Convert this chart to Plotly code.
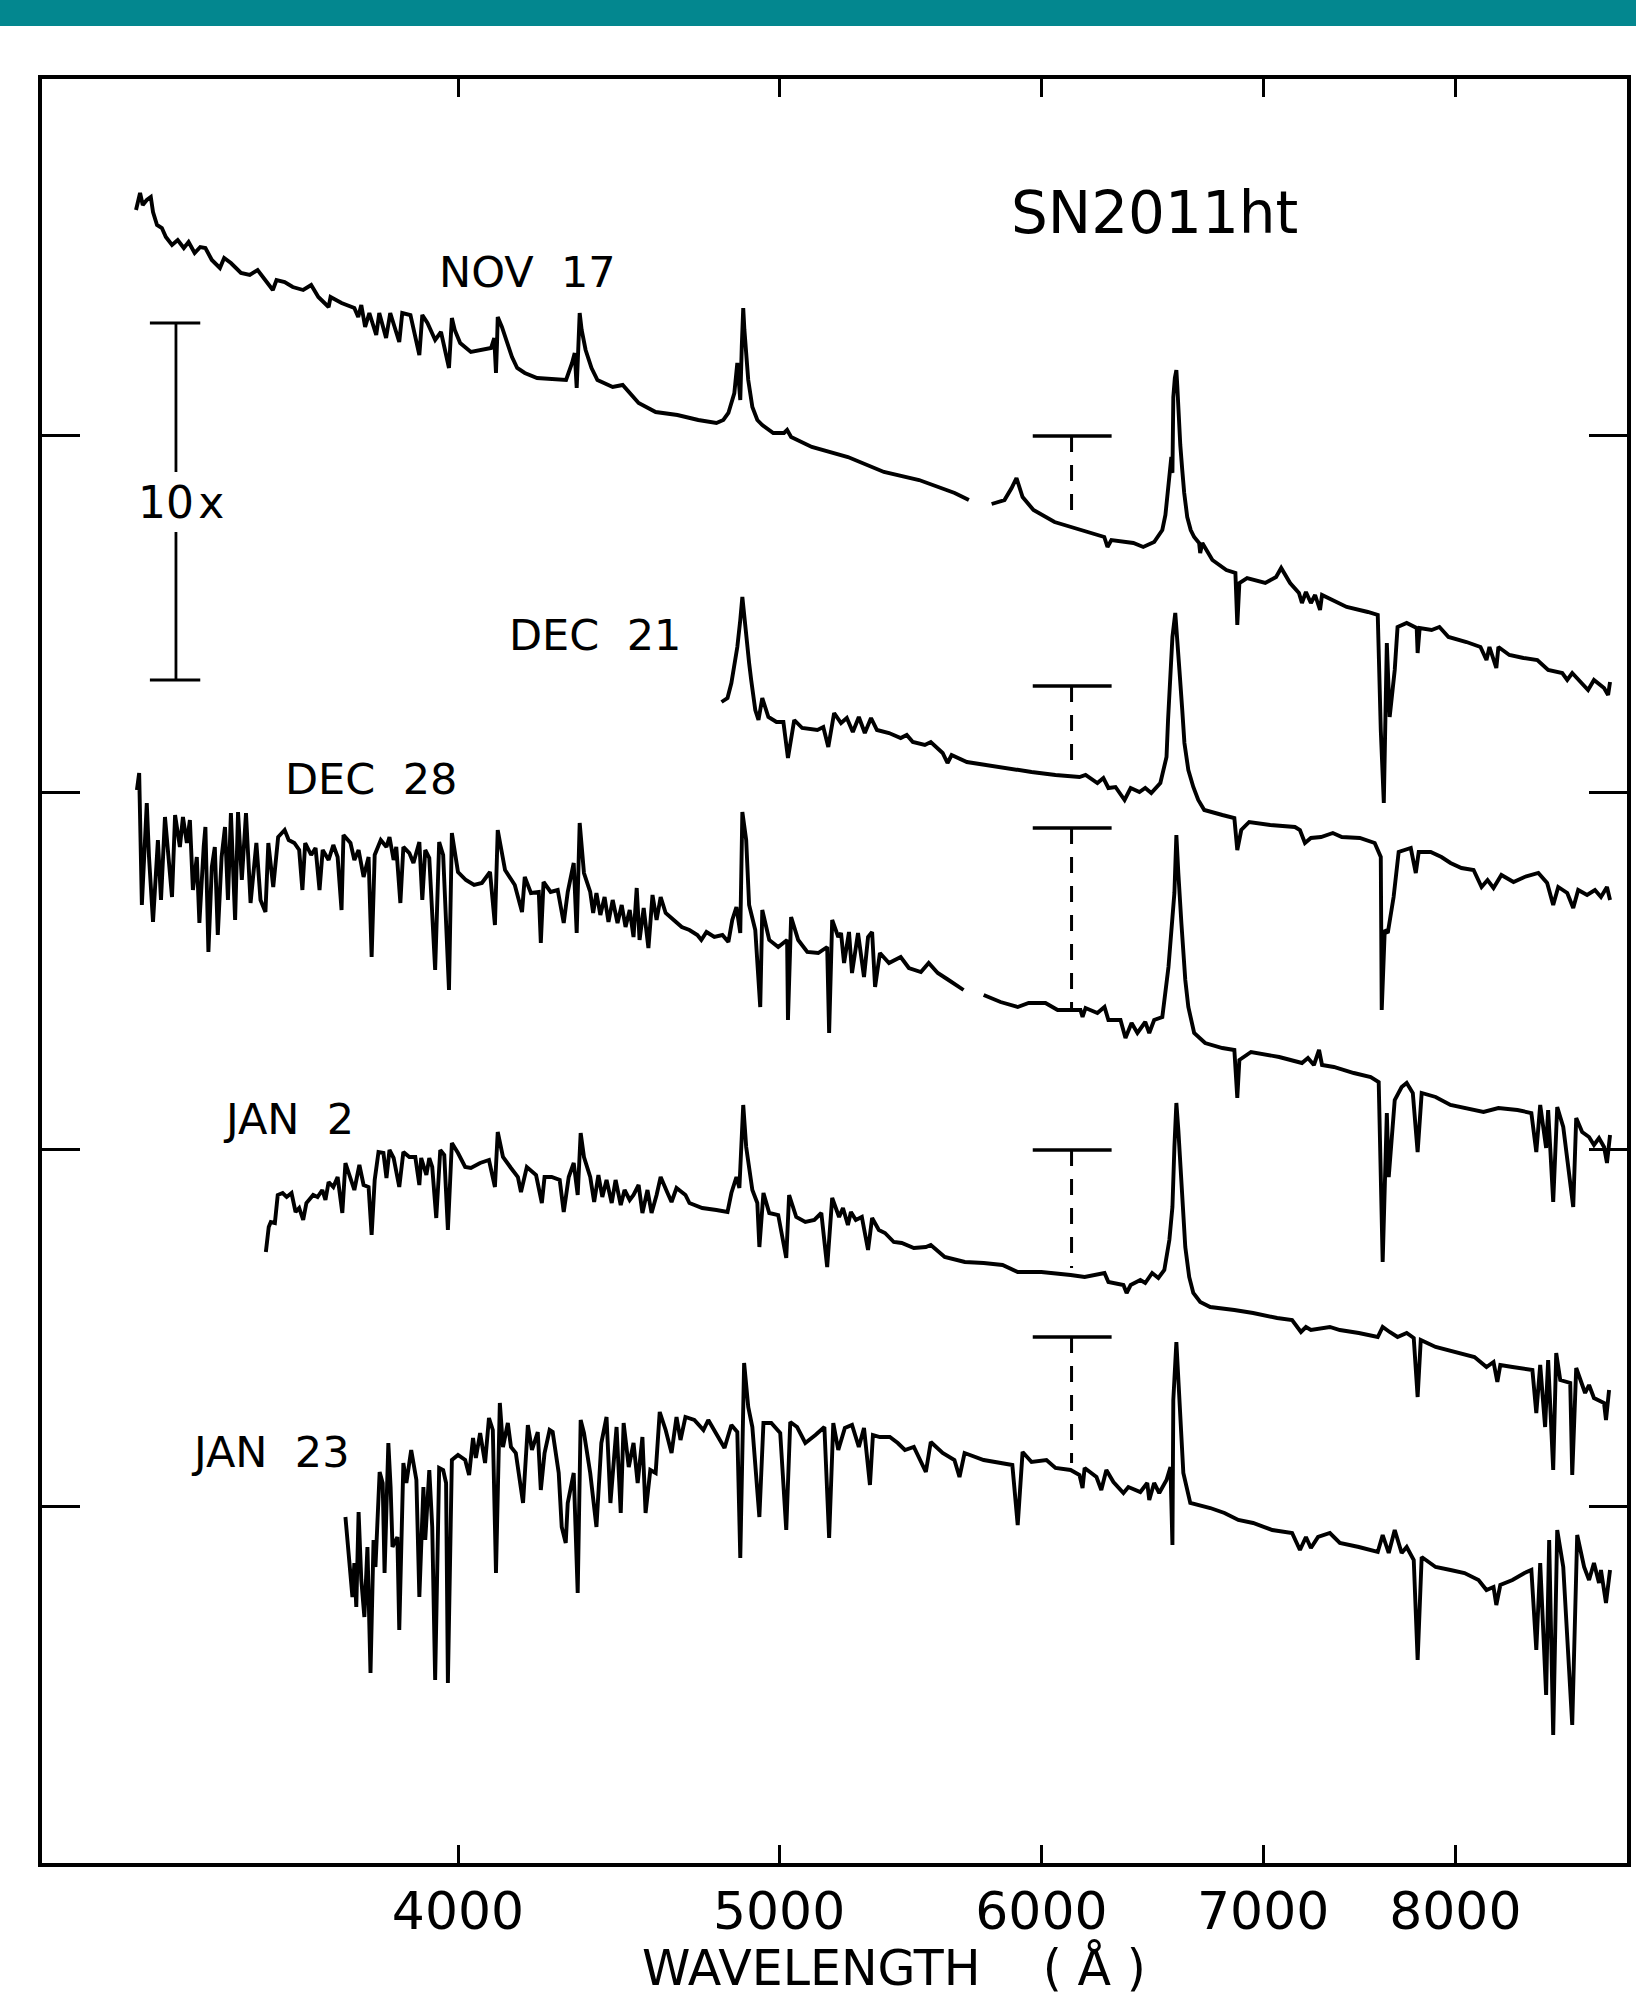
import math
import plotly.graph_objects as go

# ---------------- data (wavelength in Angstrom, relative flux + offset, arbitrary units) -------------
wl_nov17 = [3198,3207,3213,3222,3231,3236,3245,3256,3265,3279,3292,3306,3317,3331,3344,3356,3371,3390,3400,3416,
            3440,3461,3480,3495,3517,3526,3546,3566,3592,3612,3630,3656,3661,3689,3722,3732,3740,3750,3761,3779,
            3787,3805,3816,3840,3848,3870,3894,3902,3916,3937,3953,3975,3983,3991,4006,4036,
            4093,4102,4107,4110,4112,4124,4136,4153,4168,4190,
            4226,4290,4312,4330,4338,4344,4348,4353,4359,4371,4389,4407,4454,4485,4535,4589,4659,4727,
            4787,4810,4827,4847,4857,4867,4872,4877,4881,4888,4894,4908,4925,4942,
            4980,5017,5028,5042,5115,5245,5378,5511,5649,5705,None,
            5796,5848,5877,5897,5922,5967,6055,6161,6268,6282,6299,6396,6440,6489,6526,6540,
            6549,6558,6567,6572,6576,6583,6590,6594,6599,6608,6617,6626,6640,6656,6672,6695,6700,6710,6757,6823,
            6866,6875,6885,6922,7010,7063,
            7088,7132,7176,7191,7211,7236,7257,7282,7292,7342,7418,7528,7580,7596,7612,7628,7643,7670,7685,7734,
            7788,7793,7804,7869,7912,7962,8062,8141,8175,8192,8231,8243,8306,8388,8469,8533,8617,8647,8677,8773,
            8809,8871,8896,8908]
fx_nov17 = [1653,1670,1658,1663,1666,1651,1638,1635,1626,1618,1623,1615,1621,1610,1616,1615,1603,1595,1605,1600,
            1590,1588,1593,1585,1573,1583,1581,1576,1573,1578,1566,1556,1566,1560,1555,1546,1558,1536,1550,1528,
            1550,1525,1550,1521,1550,1548,1508,1548,1540,1523,1531,1495,1545,1533,1520,1511,
            1515,1525,1490,1520,1546,1536,1523,1506,1495,1490,
            1485,1483,1483,1500,1510,1475,1520,1550,1533,1513,1495,1483,1476,1478,1460,1451,1448,1443,
            1440,1443,1450,1470,1500,1463,1516,1555,1533,1500,1483,1456,1443,1438,
            1430,1430,1433,1426,1416,1406,1391,1383,1370,1363,None,
            1359,1363,1375,1385,1366,1353,1341,1333,1326,1316,1323,1320,1316,1321,1333,1348,
            1366,1388,1406,1390,1466,1485,1493,1478,1450,1418,1393,1370,1346,1333,1326,1320,1310,1320,1303,1293,
            1290,1238,1280,1285,1280,1286,
            1295,1280,1270,1260,1271,1260,1268,1253,1268,1263,1256,1251,1248,1133,1060,1220,1146,1193,1236,1240,
            1235,1210,1235,1233,1236,1226,1221,1216,1203,1216,1195,1216,1208,1205,1203,1193,1190,1183,1190,1173,
            1183,1175,1168,1181]

wl_dec21 = [4804,4824,4837,4857,4867,4874,4881,4887,4897,4904,4918,4929,4942,4963,4991,5015,5031,5053,5081,5135,
            5156,5174,5195,5220,5241,5263,5285,5307,5330,5352,5397,5441,5464,5487,5533,5556,5602,5621,5637,5697,
            5768,5816,5886,5959,6059,6161,6187,6238,6264,6286,6317,6357,6384,6423,6449,6476,6517,6545,6552,6563,
            6572,6585,6594,6604,6617,6627,6645,6668,6691,6719,
            6804,6861,6875,6894,6932,7034,7156,7181,7206,7236,7287,7347,7393,7486,7564,7596,7601,7617,7633,7664,
            7691,7756,7783,7799,7864,7923,7973,8034,8102,8147,8181,8215,8260,8330,8394,8475,8527,8563,8593,8647,
            8683,8713,8767,8815,8852,8889,8908]
fx_dec21 = [1161,1165,1180,1216,1243,1266,1246,1226,1200,1183,1153,1143,1165,1146,1141,1141,1105,1143,1135,1133,
            1136,1116,1150,1140,1145,1131,1146,1130,1145,1133,1130,1125,1128,1121,1118,1121,1110,1100,1108,1101,
            1098,1096,1093,1091,1088,1086,1088,1080,1085,1075,1076,1063,1075,1071,1075,1070,1080,1106,1143,1193,
            1226,1250,1226,1193,1153,1120,1093,1076,1063,1053,
            1048,1045,1013,1033,1041,1038,1036,1033,1020,1025,1026,1030,1026,1025,1020,1006,853,933,930,966,
            1011,1015,990,1011,1011,1006,1000,995,993,976,983,975,988,981,986,990,980,958,976,970,
            955,973,968,973,966,976,963]

wl_dec28 = [3200,3205,3211,3222,3227,3236,3247,3254,3263,3270,3279,3286,3297,3304,3313,3320,3327,3336,3342,3352,
            3356,3363,3371,3378,3385,3394,3402,3409,3416,3426,3433,3442,3452,3463,3477,3487,3499,3506,3518,3530,
            3546,3556,3570,3582,3590,3597,3612,3623,3633,3641,3656,3668,3679,3689,3694,3712,3722,3733,3746,3759,
            3767,3775,3791,3806,3814,3825,3832,3843,3851,3867,3878,3894,3902,3910,3921,3937,3948,3959,3975,3983,
            4000,4022,4045,4067,4090,4104,4112,4133,4161,4182,4190,4208,4231,4237,4245,4266,4287,4305,4317,4335,
            4344,4353,4366,4385,4394,4404,4416,4429,4441,4454,4469,4482,4494,4507,4519,4529,4538,4551,4566,4579,
            4592,4605,4621,4647,4673,4698,4724,4737,4754,4780,4807,4827,4840,4854,4867,4874,4887,4897,4918,4935,
            4942,4966,4997,5028,5031,5042,5067,5099,5138,5170,5177,5188,5210,5220,5231,5249,5260,5282,5304,5319,
            5334,5345,5363,5397,5441,5472,5518,5548,5583,5625,5684,None,
            5764,5832,5902,5947,6017,6068,6165,6174,6187,6238,6269,6286,6339,6361,6388,6414,6449,6467,6489,6526,
            6554,6572,6581,6590,6594,6599,6613,6631,6645,6672,6723,6804,6861,6875,6885,6941,7078,7191,7221,7251,
            7277,7292,7352,7455,
            7543,7585,7606,7628,7638,7670,7707,7734,7767,7793,7815,7891,7973,8051,8158,8243,8353,8434,8463,8486,
            8521,8533,8563,8587,8623,8683,8701,8737,8779,8809,8840,8871,8889,8908]
fx_dec28 = [1073,1090,958,1060,1006,941,1023,963,1046,1006,966,1048,1016,1046,1020,1043,973,1006,940,1016,
            1036,911,996,1016,928,1006,1036,963,1050,943,1051,983,1050,960,1020,963,951,1020,976,1026,
            1033,1023,1020,1013,973,1020,1008,1015,973,1013,1003,1018,1006,953,1028,1020,1003,1013,986,1006,
            906,1008,1023,1016,1026,1003,1016,960,1016,1010,1000,1021,963,1013,1005,893,1021,1008,873,1030,
            991,983,978,980,991,938,1033,993,978,951,986,970,971,920,981,971,973,940,971,1000,
            930,1040,990,971,950,970,948,966,941,963,940,958,936,953,926,975,923,955,915,968,
            943,966,950,943,936,933,928,923,931,926,928,921,943,956,930,1051,1023,958,933,856,
            953,923,916,923,843,946,923,911,910,916,830,943,926,930,900,931,890,930,886,926,
            931,876,910,900,906,895,891,900,890,883,873,None,
            868,861,856,860,860,853,853,846,855,850,856,843,843,825,840,830,841,830,843,846,
            896,940,970,1028,1016,990,940,883,856,830,820,815,813,765,803,811,806,800,805,798,
            813,798,796,790,
            786,781,601,750,686,763,776,780,770,711,770,766,758,755,751,755,753,750,711,758,
            715,753,661,756,736,656,745,731,726,718,725,716,700,728]

wl_jan2 = [3500,3507,3512,3522,3529,3541,3551,3563,3573,3582,3592,3600,3617,3628,3640,3648,3656,3668,3679,3691,
           3699,3712,3722,3735,3746,3759,3767,3775,3785,3798,3806,3814,3825,3840,3851,3867,3883,3894,3899,3913,
           3921,3929,3940,3951,3962,3972,3983,4000,4020,4036,4062,4087,4104,4112,4127,4150,4170,4179,4196,4223,
           4240,4248,4269,4293,4305,4320,4335,4347,4356,4366,4385,4397,4410,4422,4435,4451,4463,4479,4491,4507,
           4519,4535,4547,4563,4576,4592,4605,4627,4640,4656,4685,4698,4740,4787,4824,4837,4854,4864,4877,4887,
           4908,4925,4932,4946,4966,4997,5025,5035,5060,5092,5124,5149,5170,5188,5213,5227,5245,5256,5274,5296,
           5319,5334,5359,5382,5415,5445,5491,5537,5556,5610,5689,5764,5840,5902,6000,6123,6183,6269,6286,6352,
           6366,6384,6427,6449,6480,6508,6535,6558,6572,6581,6590,6599,6608,6622,6631,6649,6668,6700,6747,
           6861,6951,7068,7142,7186,7211,
           7236,7332,7383,7481,7580,7606,7643,7685,7734,7772,7793,7810,7891,7995,8107,8175,8215,8237,8254,8324,
           8440,8463,8486,8515,8533,8563,8581,8605,8665,8677,8701,8755,8779,8809,8840,8871,8883,8902]
fx_jan2 = [611,636,641,640,668,670,666,670,651,655,643,660,668,666,673,663,681,676,686,650,
           700,683,673,698,678,676,628,683,711,710,685,713,705,676,711,706,706,678,705,688,
           705,696,645,713,708,633,720,710,696,695,700,703,676,731,706,695,686,671,696,688,
           660,686,686,683,651,686,700,668,730,706,686,661,688,666,683,660,683,658,673,663,
           668,678,650,673,650,668,686,670,661,675,668,660,655,653,651,670,686,675,758,716,
           673,660,616,670,650,648,605,668,646,641,643,650,596,665,646,655,638,651,643,646,
           613,645,633,630,621,620,615,616,618,606,601,600,598,591,591,588,586,590,581,578,
           570,578,583,580,590,585,593,623,656,716,760,733,700,650,616,586,570,561,556,
           553,550,545,543,531,536,
           533,536,533,530,526,536,531,526,530,525,466,523,516,511,506,496,501,481,498,496,
           493,450,498,436,503,393,510,483,480,388,495,470,478,465,463,460,443,473]

wl_jan23 = [3699,3704,3712,3717,3722,3727,3733,3740,3748,3756,3764,3772,3777,3788,3796,3801,3811,3817,3822,3835,
            3840,3851,3859,3872,3886,3894,3905,3910,3921,3929,3937,3948,3959,3967,3972,3983,4000,4020,4031,4042,
            4050,4062,4076,4087,4098,4107,4118,4127,4141,4150,4164,4185,4199,4211,4228,4237,4248,4263,4272,4290,
            4299,4311,4317,4335,4347,4356,4366,4385,4404,4419,4435,4447,4466,4479,4488,4504,4519,4532,4547,4557,
            4572,4589,4602,4621,4640,4656,4669,4685,4714,4744,4760,4784,4814,4837,4857,4867,4874,4880,4894,4908,
            4932,4946,4973,5004,5025,5039,5063,5092,5128,5160,5177,5192,5210,5234,5260,5285,5304,5326,5337,5363,
            5400,5430,5457,5491,5537,5556,5602,5648,5668,5688,5764,5840,5880,5902,5922,5959,6021,6059,6123,6161,
            6174,6183,6234,6255,6277,6308,6352,6374,6427,6458,6467,6489,6512,6545,6563,6572,6576,6590,6604,6622,
            6654,6747,6814,6880,6951,7044,7142,7181,7211,7236,7272,7332,7383,7481,7580,7606,7638,7670,7707,7734,
            7772,7793,7815,7891,7973,8051,8130,8175,8215,8231,8254,8324,8394,8434,8463,8486,8521,8539,8563,8587,
            8623,8677,8707,8749,8779,8809,8840,8852,8883,8908]
fx_jan23 = [346,323,293,266,300,256,351,283,246,316,190,323,296,391,380,290,420,376,316,326,
            233,400,380,413,383,266,376,323,393,336,183,395,393,380,180,403,408,403,388,425,
            405,430,400,445,433,290,460,416,440,416,410,360,438,413,431,373,410,433,431,390,
            336,320,360,390,270,443,430,390,336,420,446,360,436,350,440,396,420,380,426,350,
            393,390,451,433,410,446,423,446,443,433,443,430,415,438,431,305,433,500,456,436,
            346,440,440,430,333,441,436,420,428,436,325,440,413,435,438,416,435,378,428,426,
            426,420,413,416,391,421,410,403,386,410,403,400,398,338,411,401,403,395,393,388,
            375,395,386,373,393,381,370,376,371,380,363,380,370,383,396,318,463,521,463,390,
            360,355,350,343,340,333,330,313,326,315,326,330,320,316,311,328,310,333,310,316,
            303,203,306,296,293,290,283,273,276,258,278,283,290,293,213,300,168,323,128,333,
            296,138,328,296,283,300,280,293,260,293]

# epoch labels: (text, wavelength of label centre, flux level)
labels = ["NOV\u00a0\u00a017", "DEC\u00a0\u00a021", "DEC\u00a0\u00a028", "JAN\u00a0\u00a02", "JAN\u00a0\u00a023"]
label_wl = [4199, 4399, 3766, 3556, 3511]
label_fx = [1591, 1228, 1084, 744, 411]

# zero-level markers for each spectrum
zero_levels = [1427, 1177, 1035, 713, 526]
dash_bottoms = [1343, 1093, 853, 595, 400]
bar_wl = [5964, 6300]
mark_wl = 6127

# "10x" scale bar
scale_wl = 3288
scale_ends = [3229, 3344]
scale_top, scale_bottom = 1540, 1183
scale_gap = [1391, 1331]
scale_text_fx = 1361

xticks = [4000, 5000, 6000, 7000, 8000]
yticks = [357, 714, 1071, 1428]

FONT = "DejaVu Sans"
LW = 3.9

fig = go.Figure()


def add_line(x, y, width=LW, dash=None):
    fig.add_trace(go.Scatter(x=x, y=y, mode="lines",
                             line=dict(color="black", width=width, dash=dash),
                             connectgaps=False, hoverinfo="skip", showlegend=False))


for wl, fx in [(wl_nov17, fx_nov17), (wl_dec21, fx_dec21), (wl_dec28, fx_dec28),
               (wl_jan2, fx_jan2), (wl_jan23, fx_jan23)]:
    add_line(wl, fx)

for lev, bot in zip(zero_levels, dash_bottoms):
    add_line(bar_wl, [lev, lev], width=3.5)
    add_line([mark_wl, mark_wl], [lev, bot], width=3, dash="16px,13px")

# scale bar
add_line(scale_ends, [scale_top, scale_top], width=3.2)
add_line(scale_ends, [scale_bottom, scale_bottom], width=3.2)
add_line([scale_wl, scale_wl], [scale_top, scale_gap[0]], width=2.8)
add_line([scale_wl, scale_wl], [scale_gap[1], scale_bottom], width=2.8)

annotations = []
for t, w, f in zip(labels, label_wl, label_fx):
    annotations.append(dict(x=math.log10(w), y=f, xref="x", yref="y", text=t, showarrow=False,
                            xanchor="center", yanchor="middle",
                            font=dict(family=FONT, size=43, color="black")))
annotations.append(dict(x=math.log10(6489), y=1650, xref="x", yref="y", text="SN2011ht", showarrow=False,
                        xanchor="center", yanchor="middle", font=dict(family=FONT, size=58, color="black")))
annotations.append(dict(x=math.log10(3299), y=scale_text_fx, xref="x", yref="y", text="10\u200ax",
                        showarrow=False, xanchor="center", yanchor="middle",
                        font=dict(family=FONT, size=44, color="black")))
annotations.append(dict(x=0.377, y=-0.0585, xref="paper", yref="paper",
                        text="WAVELENGTH\u00a0\u00a0\u00a0\u00a0(\u00a0\u00c5\u00a0)", showarrow=False,
                        xanchor="left", yanchor="middle", font=dict(family=FONT, size=49, color="black")))

fig.update_layout(
    width=1636, height=2000,
    margin=dict(l=42, r=5, t=79, b=137),
    paper_bgcolor="white", plot_bgcolor="white",
    showlegend=False,
    annotations=annotations,
    shapes=[dict(type="rect", xref="paper", yref="paper", x0=-0.05, x1=1.05,
                 y0=1 + 53 / 1784, y1=1 + 90 / 1784, fillcolor="#03878F",
                 line=dict(width=0), layer="above")],
)
fig.update_xaxes(type="log", range=[3.4765, 3.9549], tickvals=xticks,
                 ticktext=[str(v) for v in xticks],
                 ticks="inside", ticklen=18, tickwidth=3, tickcolor="black",
                 mirror="ticks", showline=True, linewidth=3.5, linecolor="black",
                 showgrid=False, zeroline=False,
                 tickfont=dict(family=FONT, size=52, color="black"))
fig.update_yaxes(range=[0, 1784], tickvals=yticks, ticks="inside", ticklen=38, tickwidth=3,
                 tickcolor="black", mirror="ticks", showline=True, linewidth=3.5, linecolor="black",
                 showticklabels=False, showgrid=False, zeroline=False)

fig.write_html("out.html")
